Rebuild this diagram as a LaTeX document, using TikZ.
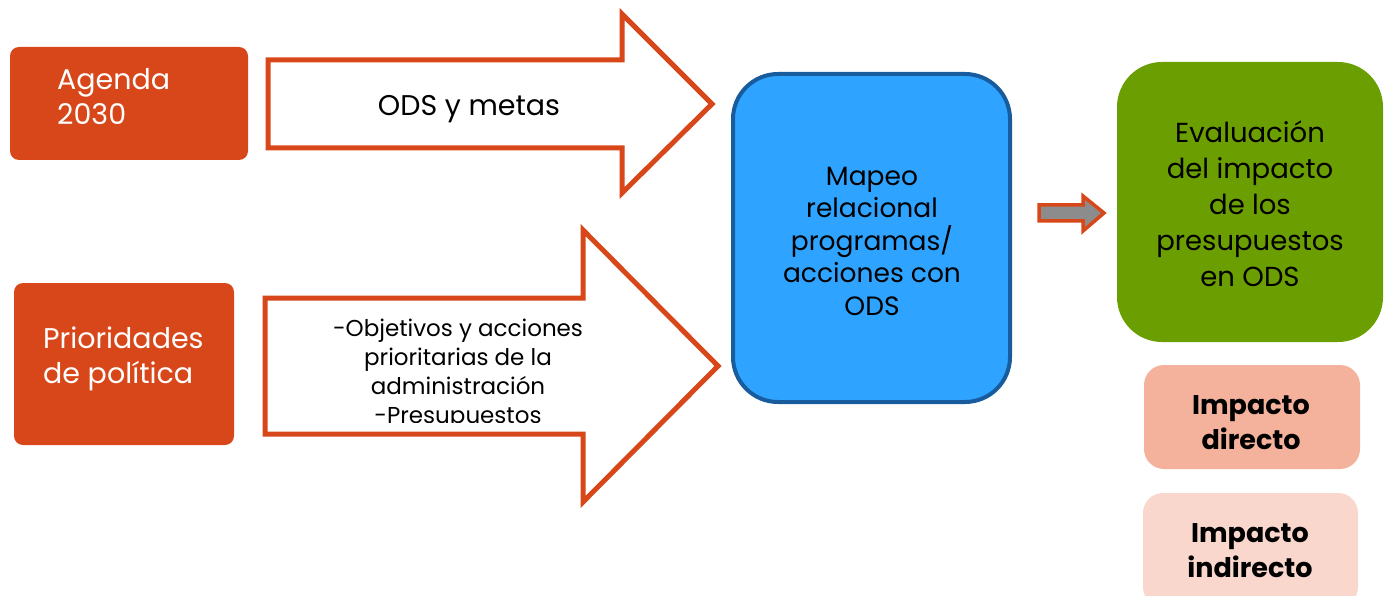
\documentclass[tikz,border=0pt]{standalone}
\usepackage{fontspec}
\setmainfont{Poppins}
\definecolor{orng}{RGB}{216,71,26}
\definecolor{bluefill}{RGB}{46,163,255}
\definecolor{blueline}{RGB}{24,92,158}
\definecolor{grn}{RGB}{107,158,0}
\definecolor{pinkA}{RGB}{244,177,156}
\definecolor{pinkB}{RGB}{249,215,205}
\definecolor{arrgray}{RGB}{140,140,140}
\tikzset{
  srcbox/.style={fill=orng, rounded corners=9pt, inner sep=0pt},
  srctext/.style={text=white, align=left, inner sep=0pt, font=\fontsize{28.5}{35}\selectfont},
  blockarrow/.style={draw=orng, line width=5pt, fill=white, line join=miter},
  arrtext/.style={align=center, inner sep=0pt},
  bigbox/.style={rounded corners=45pt, inner sep=0pt},
  bigtext/.style={align=center, inner sep=0pt, font=\fontsize{26.5}{32.5}\selectfont},
  impbox/.style={rounded corners=20pt, inner sep=0pt},
  imptext/.style={align=center, inner sep=0pt, font=\bfseries\fontsize{27}{35}\selectfont},
}
\begin{document}
\begin{tikzpicture}[x=1pt,y=-1pt]
\useasboundingbox (0,0) rectangle (1390,596);
% source boxes
\node[srcbox, minimum width=238pt, minimum height=113pt] (agenda) at (129,103.5) {};
\node[srctext, anchor=west] (agendat) at (57,96.5) {Agenda\\2030};
\node[srcbox, minimum width=220pt, minimum height=162pt] (prior) at (124,364) {};
\node[srctext, anchor=west] (priort) at (43,359) {Prioridades\\de política};
% top block arrow
\draw[blockarrow] (268,60) -- (622,60) -- (622,14) -- (712,104) -- (622,193) -- (622,148) -- (268,148) -- cycle;
\node[arrtext, font=\fontsize{28.5}{32}\selectfont] (odsmetas) at (469,109) {ODS y metas};
% bottom block arrow
\draw[blockarrow] (265,298) -- (583,298) -- (583,230) -- (718,366) -- (583,502) -- (583,434) -- (265,434) -- cycle;
\begin{scope}
\clip (270,300) rectangle (700,422);
\node[arrtext, font=\fontsize{23}{29}\selectfont] (objetivos) at (458,374) {-Objetivos y acciones\\prioritarias de la\\administración\\-Presupuestos};
\end{scope}
% blue mapping box
\node[bigbox, fill=bluefill, draw=blueline, line width=4pt, minimum width=277pt, minimum height=328pt] (mapeo) at (871.5,238) {};
\node[bigtext] (mapeot) at (872,241) {Mapeo\\relacional\\programas/\\acciones con\\ODS};
% small arrow
\draw[draw=orng, fill=arrgray, line width=3.5pt, line join=miter] (1039,205) -- (1083,205) -- (1083,196) -- (1104,213) -- (1083,231) -- (1083,221) -- (1039,221) -- cycle;
% green box
\node[bigbox, fill=grn, minimum width=266pt, minimum height=280pt] (evalbox) at (1250,202) {};
\node[bigtext, font=\fontsize{27.5}{36}\selectfont] (evalt) at (1250,203.5) {Evaluación\\del impacto\\de los\\presupuestos\\en ODS};
% impact boxes
\node[impbox, fill=pinkA, minimum width=216pt, minimum height=104pt] (directo) at (1252,417) {};
\node[imptext] (directot) at (1251,423) {Impacto\\directo};
\node[impbox, fill=pinkB, minimum width=215pt, minimum height=114pt] (indirecto) at (1250.5,550) {};
\node[imptext] (indirectot) at (1250,551) {Impacto\\indirecto};
\end{tikzpicture}
\end{document}
